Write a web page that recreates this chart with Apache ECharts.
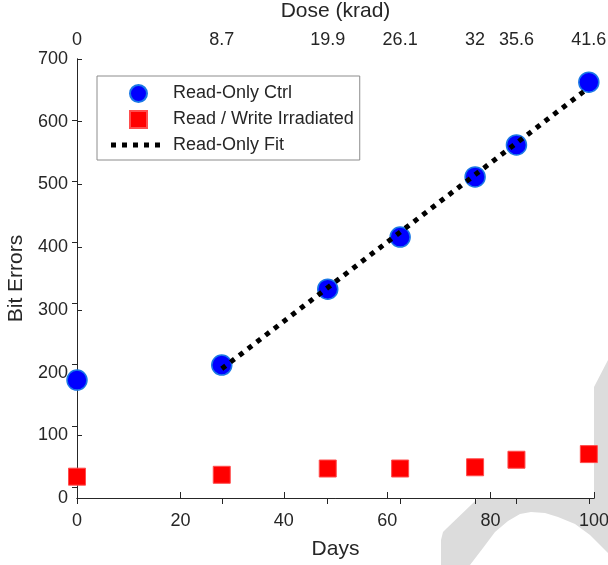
<!DOCTYPE html>
<html>
<head>
<meta charset="utf-8">
<script src="https://cdn.jsdelivr.net/npm/echarts@6/dist/echarts.min.js"></script>
<style>
    html, body { margin: 0; padding: 0; background: #fff; }
    #chart { width: 608px; height: 565px; }
</style>
</head>
<body>
<div id="chart"></div>
<script>
    // measurement days
    var days = [0, 28, 48.5, 62.5, 77, 85, 99];
    var ctrlErrors = [188, 212, 333, 416, 512, 563, 663];
    var irradErrors = [34, 37, 47, 47, 49, 61, 70];
    // linear fit of read-only ctrl (end points)
    var fitDays = [28, 98];
    var fitErrors = [206, 648];
    // top axis: dose at the measurement days
    var doseDays = [0, 28, 48.5, 62.5, 77, 85, 99];
    var doseLabels = ['0', '8.7', '19.9', '26.1', '32', '35.6', '41.6'];
    var rightTicks = [17.5, 115, 212.5, 310, 407.5, 505, 602.5];

    function pairs(xs, ys) {
        var out = [];
        for (var i = 0; i < xs.length; i++) out.push([xs[i], ys[i]]);
        return out;
    }

    var txt = '#262626';
    var font = 'Liberation Sans, Arial, sans-serif';
    // legend icons drawn inside a 59x17 box (the M..L pairs pin the box size)
    var squareIcon = 'path://M0,0L0,0M59,17L59,17M21,0L38,0L38,17L21,17Z';
    var dotsIcon = 'path://M0,0L0,0M59,17L59,17' +
        'M2,6h5v5h-5zM13,6h5v5h-5zM24,6h5v5h-5zM35,6h5v5h-5zM46,6h5v5h-5z';
    var mChart = echarts.init(document.getElementById('chart'));
    var option = {
        animation: false,
        textStyle: { fontFamily: font },
        graphic: [{
            // background watermark, hidden by the white plot area
            type: 'polygon',
            z: -1,
            silent: true,
            shape: { points: [[441, 565], [441, 540], [443, 532], [447, 528], [594, 387], [608, 360], [608, 553],
                [590, 535], [575, 524], [558, 517], [545, 513], [531, 512], [520, 514], [508, 521],
                [495, 532], [483, 548], [470, 565]] },
            style: { fill: '#dcdcdc' }
        }],
        grid: {
            left: 77, right: 14, top: 59, bottom: 67,
            outerBoundsMode: 'none',
            show: true, backgroundColor: '#fff', borderWidth: 0
        },
        legend: {
            orient: 'vertical',
            left: 97, top: 76,
            padding: [8, 6, 6, 11],
            itemWidth: 59, itemHeight: 17, itemGap: 7,
            backgroundColor: '#fff',
            borderColor: '#8c8c8c', borderWidth: 1,
            textStyle: { fontSize: 18, color: txt, fontFamily: font },
            data: [
                { name: 'Read-Only Ctrl', icon: 'circle' },
                { name: 'Read / Write Irradiated', icon: squareIcon },
                { name: 'Read-Only Fit', icon: dotsIcon, lineStyle: { opacity: 0 }, itemStyle: { color: '#000' } }
            ]
        },
        xAxis: [{
            type: 'value', position: 'bottom', min: 0, max: 100, interval: 20,
            name: 'Days', nameLocation: 'middle', nameGap: 41,
            nameTextStyle: { fontSize: 21, color: txt },
            axisLine: { lineStyle: { color: txt } },
            axisTick: { inside: true, length: 6, lineStyle: { color: txt } },
            axisLabel: { fontSize: 18, color: txt, margin: 14 },
            splitLine: { show: false }
        }, {
            type: 'value', position: 'top', min: 0, max: 100,
            name: 'Dose (krad)', nameLocation: 'middle', nameGap: 37,
            nameTextStyle: { fontSize: 21, color: txt },
            axisLine: { lineStyle: { color: txt } },
            axisTick: { inside: true, length: 6, customValues: doseDays, lineStyle: { color: txt } },
            axisLabel: {
                fontSize: 18, color: txt, margin: 10, customValues: doseDays,
                formatter: function (v) { return doseLabels[doseDays.indexOf(v)]; }
            },
            splitLine: { show: false }
        }],
        yAxis: [{
            type: 'value', position: 'left', min: 0, max: 700, interval: 100,
            name: 'Bit Errors', nameLocation: 'middle', nameGap: 47,
            nameTextStyle: { fontSize: 21, color: txt },
            axisLine: { show: true, lineStyle: { color: txt } },
            axisTick: { show: true, inside: true, length: 5, lineStyle: { color: txt } },
            axisLabel: { fontSize: 18, color: txt, margin: 9 },
            splitLine: { show: false }
        }, {
            type: 'value', position: 'right', min: 0, max: 700,
            axisLine: { show: true, lineStyle: { color: txt } },
            axisTick: { show: true, inside: true, length: 5, customValues: rightTicks, lineStyle: { color: txt } },
            axisLabel: { show: false },
            splitLine: { show: false }
        }],
        series: [{
            name: 'Read-Only Ctrl',
            type: 'scatter',
            symbol: 'circle', symbolSize: 20,
            itemStyle: { color: '#0000ff', borderColor: '#1a78e6', borderWidth: 1.5, opacity: 1 },
            data: pairs(days, ctrlErrors),
            z: 2
        }, {
            name: 'Read / Write Irradiated',
            type: 'scatter',
            symbol: 'rect', symbolSize: 17,
            itemStyle: { color: '#ff0000', borderColor: '#ff4d4d', borderWidth: 1, opacity: 1 },
            data: pairs(days, irradErrors),
            z: 2
        }, {
            name: 'Read-Only Fit',
            type: 'line',
            symbol: 'none',
            lineStyle: { color: '#000', width: 5, type: [5, 6] },
            itemStyle: { color: '#000' },
            data: pairs(fitDays, fitErrors),
            z: 3
        }]
    };
    mChart.setOption(option);
</script>
</body>
</html>
